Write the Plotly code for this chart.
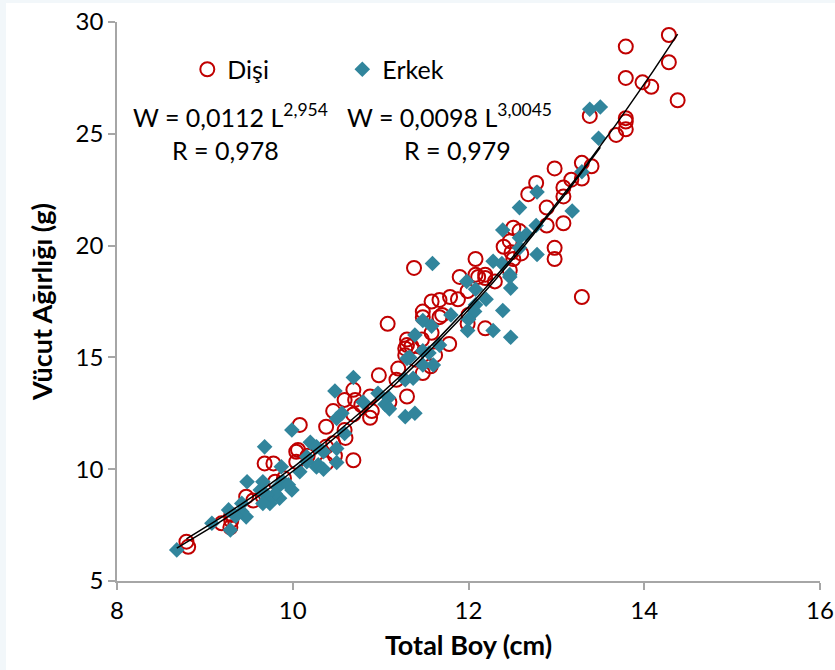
import numpy as np
import plotly.graph_objects as go

# Dişi (female) measurements: total length (cm), body weight (g)
disi_boy = [14.28, 13.79, 14.28, 13.79, 13.98, 14.08, 14.38, 13.38, 13.79, 13.79,
            13.79, 13.68, 13.29, 12.98, 13.40, 13.17, 13.29, 13.08, 13.08, 12.77,
            12.68, 12.89, 12.89, 13.08, 12.58, 12.47, 12.40, 12.49, 12.51, 12.98,
            12.98, 12.60, 12.08, 12.19, 12.08, 12.47, 13.29, 11.38, 11.90, 12.11,
            12.19, 12.30, 11.99, 11.79, 11.88, 11.67, 11.58, 11.48, 11.67, 11.48,
            12.19, 11.99, 11.08, 11.58, 11.30, 11.30, 11.47, 11.62, 11.78, 11.28,
            11.28, 11.35, 11.48, 11.57, 11.18, 11.30, 10.98, 10.69, 10.59, 10.71,
            10.88, 10.78, 10.88, 10.69, 10.46, 10.38, 10.59, 10.08, 10.46, 10.38,
            10.04, 10.69, 10.48, 10.04, 10.06, 10.17, 10.38, 9.68, 9.78, 9.80,
            9.47, 9.66, 9.19, 9.29, 9.30, 9.30, 8.79, 8.81, 11.20, 11.40,
            12.51, 11.10, 10.90, 9.55, 9.90, 11.70, 12.00, 10.60]
disi_agirlik = [29.42, 28.90, 28.20, 27.50, 27.30, 27.10, 26.50, 25.80, 25.70, 25.55,
                25.20, 24.95, 23.70, 23.45, 23.55, 22.95, 23.00, 22.60, 22.20, 22.80,
                22.30, 21.70, 20.90, 21.00, 20.65, 20.20, 19.95, 19.70, 19.40, 19.90,
                19.40, 19.65, 19.40, 18.70, 18.70, 18.90, 17.70, 19.00, 18.60, 18.60,
                18.55, 18.40, 17.97, 17.70, 17.60, 17.57, 17.50, 17.05, 16.80, 16.80,
                16.30, 16.50, 16.50, 16.10, 15.55, 15.80, 15.80, 15.10, 15.60, 15.40,
                15.10, 15.50, 14.30, 14.60, 14.00, 13.25, 14.20, 13.55, 13.10, 13.10,
                13.25, 12.87, 12.30, 12.45, 12.60, 11.90, 11.75, 11.98, 11.16, 11.00,
                10.78, 10.40, 10.60, 10.33, 10.86, 10.60, 10.26, 10.26, 10.26, 9.44,
                8.77, 8.77, 7.58, 7.40, 7.70, 7.95, 6.76, 6.53, 14.50, 14.90,
                20.80, 13.00, 12.60, 8.60, 9.60, 16.90, 16.90, 11.40]

# Erkek (male) measurements: total length (cm), body weight (g)
erkek_boy = [13.38, 13.50, 13.48, 13.29, 12.78, 12.58, 13.18, 12.77, 12.39, 12.58,
             12.66, 12.58, 12.78, 12.28, 12.38, 12.47, 11.59, 11.98, 12.08, 12.47,
             12.48, 12.08, 12.07, 12.00, 12.39, 12.28, 12.48, 11.99, 11.48, 11.58,
             11.39, 11.67, 11.30, 11.48, 11.60, 11.48, 11.33, 11.28, 11.37, 11.28,
             11.39, 10.69, 10.48, 10.97, 11.09, 11.05, 11.10, 10.56, 10.50, 10.59,
             9.99, 10.20, 10.27, 10.35, 10.50, 10.16, 10.50, 10.29, 9.68, 9.87,
             9.89, 9.83, 9.85, 9.99, 9.80, 10.08, 10.16, 10.27, 10.35, 9.48,
             9.66, 9.63, 9.70, 9.74, 9.66, 9.42, 9.42, 9.47, 9.35, 9.27,
             9.29, 9.08, 8.68, 11.80, 12.20, 10.80, 11.55, 9.95]
erkek_agirlik = [26.10, 26.20, 24.80, 23.30, 22.40, 21.70, 21.55, 20.90, 20.70, 20.35,
                 20.50, 19.90, 19.60, 19.30, 19.20, 18.70, 19.20, 18.40, 18.05, 18.60,
                 18.10, 17.35, 17.05, 16.70, 17.10, 16.20, 15.90, 16.20, 16.65, 16.40,
                 16.00, 15.55, 14.95, 14.66, 14.66, 15.30, 15.00, 14.00, 14.07, 12.35,
                 12.50, 14.10, 13.50, 13.40, 13.20, 12.90, 12.70, 12.50, 12.27, 11.60,
                 11.75, 11.20, 11.00, 10.78, 10.93, 10.56, 10.30, 10.20, 11.00, 10.11,
                 9.44, 9.20, 8.70, 9.07, 8.90, 9.89, 10.33, 10.10, 10.00, 9.44,
                 9.44, 9.07, 8.85, 8.47, 8.47, 8.47, 8.10, 7.87, 7.90, 8.18,
                 7.28, 7.58, 6.39, 16.90, 17.60, 13.00, 15.20, 9.30]

# Length-weight relationships W = a * L^b
disi_a, disi_b, disi_r = 0.0112, 2.954, 0.978
erkek_a, erkek_b, erkek_r = 0.0098, 3.0045, 0.979

x_ticks = [8, 10, 12, 14, 16]
y_ticks = [5, 10, 15, 20, 25, 30]

FONT = "Lato, 'Open Sans', sans-serif"
RED = "#C00000"
TEAL = "#31859C"

fig = go.Figure()

fig.add_trace(go.Scatter(
    x=disi_boy, y=disi_agirlik, mode="markers", name="Dişi",
    marker=dict(symbol="circle-open", size=14, color=RED, line=dict(width=2, color=RED)),
))
fig.add_trace(go.Scatter(
    x=erkek_boy, y=erkek_agirlik, mode="markers", name="Erkek",
    marker=dict(symbol="diamond", size=12, color=TEAL, line=dict(width=0)),
))

# Fitted power curves over each group's length range
for a, b, xs in [(disi_a, disi_b, disi_boy), (erkek_a, erkek_b, erkek_boy)]:
    L = np.linspace(min(xs), max(xs), 200)
    fig.add_trace(go.Scatter(
        x=L, y=a * L ** b, mode="lines", showlegend=False, hoverinfo="skip",
        line=dict(color="black", width=1.5),
    ))

def fmt(v):
    return str(v).replace(".", ",")

eq_font = dict(family=FONT, size=25, color="black")
fig.add_annotation(x=9.29, y=25.84, xref="x", yref="y", showarrow=False,
                   text=f"W = {fmt(disi_a)} L<sup>{fmt(disi_b)}</sup>", font=eq_font)
fig.add_annotation(x=9.24, y=24.28, xref="x", yref="y", showarrow=False,
                   text=f"R = {fmt(disi_r)}", font=eq_font)
fig.add_annotation(x=11.78, y=25.84, xref="x", yref="y", showarrow=False,
                   text=f"W = {fmt(erkek_a)} L<sup>{fmt(erkek_b)}</sup>", font=eq_font)
fig.add_annotation(x=11.87, y=24.28, xref="x", yref="y", showarrow=False,
                   text=f"R = {fmt(erkek_r)}", font=eq_font)

W, H = 835, 670
ml, mr, mt, mb = 117, 15, 22, 89
pw, ph = W - ml - mr, H - mt - mb

# White card over a pale frame
fig.add_shape(type="rect", xref="paper", yref="paper", layer="below",
              x0=(6 - ml) / pw, x1=(W - ml) / pw,
              y0=-(mb) / ph, y1=(H - mb - 3) / ph,
              fillcolor="white", line=dict(width=0))

axis_common = dict(
    showgrid=False, zeroline=False, showline=True, linecolor="#A6A6A6", linewidth=1.5,
    ticks="outside", ticklen=7, tickcolor="#A6A6A6", tickwidth=1.5, automargin=False,
    tickfont=dict(family=FONT, size=24, color="black"), mirror=False,
)

fig.update_layout(
    width=W, height=H,
    margin=dict(l=ml, r=mr, t=mt, b=mb),
    paper_bgcolor="#F2F7FA", plot_bgcolor="rgba(0,0,0,0)",
    font=dict(family=FONT, color="black"),
    xaxis=dict(range=[8, 16], tickvals=x_ticks, **axis_common,
               title=dict(text="<b>Total Boy (cm)</b>", font=dict(family=FONT, size=27), standoff=14)),
    yaxis=dict(range=[5, 30], tickvals=y_ticks, **axis_common,
               title=dict(text="<b>Vücut Ağırlığı (g)</b>", font=dict(family=FONT, size=27), standoff=15)),
    legend=dict(orientation="h", x=0.10, y=0.915, xanchor="left", yanchor="middle",
                bgcolor="rgba(0,0,0,0)", font=dict(family=FONT, size=25),
                entrywidth=110, entrywidthmode="pixels", itemwidth=30),
    showlegend=True,
)

fig.write_html("out.html")
